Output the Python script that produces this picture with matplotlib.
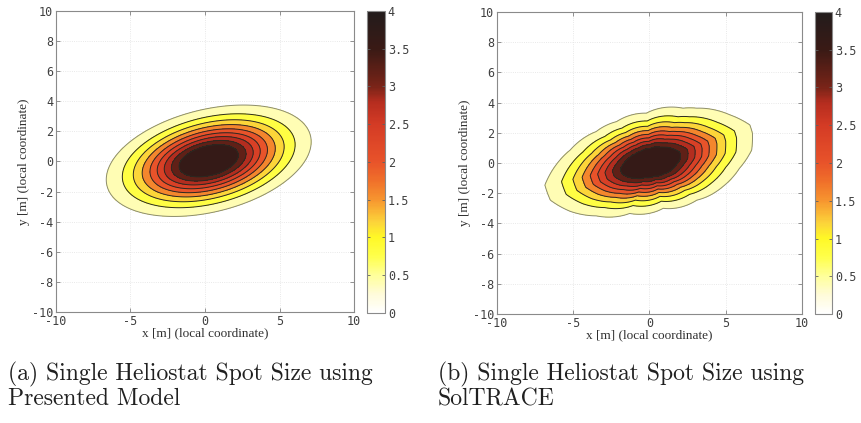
import numpy as np
import matplotlib
matplotlib.use("Agg")
import matplotlib.pyplot as plt
from matplotlib.colors import LinearSegmentedColormap, Normalize
from matplotlib.cm import ScalarMappable

plt.rcParams['axes.unicode_minus'] = False

# ---- colour scale (value -> colour) ----
cbar_values = [0.0, 0.25, 0.5, 0.75, 1.0, 1.2, 1.5, 1.75, 2.0, 2.5, 2.8, 3.0, 3.5, 4.0]
cbar_colors = ['#ffffff', '#fffbd8', '#ffff99', '#ffff4a', '#fff826', '#fcd43a',
               '#f7952f', '#f0702a', '#e8532a', '#d43b25', '#b52d1f', '#7a2418',
               '#3a1a15', '#221c1c']
cbar_ticks = [0, 0.5, 1, 1.5, 2, 2.5, 3, 3.5, 4]
cbar_ticklabels = ['0', '0.5', '1', '1.5', '2', '2.5', '3', '3.5', '4']

contour_levels = [0.4, 0.8, 1.2, 1.6, 2.0, 2.4, 2.8, 3.2, 3.6]
x_ticks = [-10, -5, 0, 5, 10]
y_ticks = [-10, -8, -6, -4, -2, 0, 2, 4, 6, 8, 10]

# ---- (a) presented model: elliptical Gaussian spot ----
spot_a_peak = 4.4
spot_a_center = (0.25, 0.05)
spot_a_sigma_x = 3.14
spot_a_sigma_y = 1.69
spot_a_rho = 0.34

# ---- (b) SolTRACE: outline of the outermost contour ----
spot_b_peak = 4.4
spot_b_center = (0.1, 0.0)
spot_b_outline_x = [-6.86, -6.5, -5.2, -3.5, -2.16, -0.2, 2.2, 3.1, 5.27, 6.58,
                    6.75, 6.7, 5.9, 4.8, 3.1, 0.9, -1.3, -3.5, -5.2, -6.5]
spot_b_outline_y = [-1.46, -0.7, 0.86, 2.08, 2.74, 3.3, 3.63, 3.63, 3.19, 2.52,
                    1.97, 0.86, -0.35, -1.57, -2.46, -3.0, -3.34, -3.5, -3.2, -2.46]

captions = ["(a) Single Heliostat Spot Size using\nPresented Model",
            "(b) Single Heliostat Spot Size using\nSolTRACE"]
xlabel = "x [m] (local coordinate)"
ylabel = "y [m] (local coordinate)"

cmap = LinearSegmentedColormap.from_list(
    'spot', [(v / 4.0, c) for v, c in zip(cbar_values, cbar_colors)])
norm = Normalize(0, 4)

g = np.linspace(-10, 10, 501)
X, Y = np.meshgrid(g, g)


def field_a():
    dx = X - spot_a_center[0]
    dy = Y - spot_a_center[1]
    sx, sy, r = spot_a_sigma_x, spot_a_sigma_y, spot_a_rho
    q = (dx**2 / sx**2 - 2 * r * dx * dy / (sx * sy) + dy**2 / sy**2) / (1 - r**2)
    return spot_a_peak * np.exp(-q / 2)


def field_b():
    ox = np.array(spot_b_outline_x) - spot_b_center[0]
    oy = np.array(spot_b_outline_y) - spot_b_center[1]
    th = np.arctan2(oy, ox)
    R = np.hypot(ox, oy)
    order = np.argsort(th)
    th, R = th[order], R[order]
    dx = X - spot_b_center[0]
    dy = Y - spot_b_center[1]
    t = np.arctan2(dy, dx)
    Rt = np.interp(t, th, R, period=2 * np.pi)
    rr = np.hypot(dx, dy) / Rt
    L0 = contour_levels[0]
    return spot_b_peak * (L0 / spot_b_peak) ** (rr**2)


W, H = 862, 423
fig = plt.figure(figsize=(W / 100, H / 100), dpi=100)

axes_px = [(56, 11, 354, 312), (497, 12, 802, 314)]
cbar_px = [(367, 11, 385, 313), (815, 12, 832, 314)]


def px_rect(r):
    x0, y0, x1, y1 = r
    return [x0 / W, (H - y1) / H, (x1 - x0) / W, (y1 - y0) / H]


tick_font = dict(family='DejaVu Sans Mono', size=8.5)
label_font = dict(family='Liberation Serif', size=9.5)

fills = [cmap(norm(l)) for l in contour_levels]
line_cols = ['#8c8c6e'] + ['#2a2a22'] * (len(contour_levels) - 1)

for i, F in enumerate([field_a(), field_b()]):
    ax = fig.add_axes(px_rect(axes_px[i]))
    ax.set_axisbelow(True)
    ax.grid(True, linestyle=':', color='#e2e2e2', linewidth=0.6)
    peak = F.max()
    ax.contourf(X, Y, F, levels=contour_levels + [peak + 1], colors=fills)
    ax.contour(X, Y, F, levels=contour_levels, colors=line_cols, linewidths=0.7)
    ax.set_xlim(-10, 10)
    ax.set_ylim(-10, 10)
    ax.set_xticks(x_ticks)
    ax.set_yticks(y_ticks)
    ax.set_xticklabels([str(v) for v in x_ticks], **tick_font, color='#404040')
    ax.set_yticklabels([str(v) for v in y_ticks], **tick_font, color='#404040')
    ax.tick_params(direction='in', top=True, right=True, length=3, width=0.6,
                   color='#808080', pad=2)
    for s in ax.spines.values():
        s.set_color('#8a8a8a')
        s.set_linewidth(0.8)
    ax.set_xlabel(xlabel, **label_font, color='#303030', labelpad=0)
    ax.set_ylabel(ylabel, **label_font, color='#303030', labelpad=1)

    cax = fig.add_axes(px_rect(cbar_px[i]))
    cb = fig.colorbar(ScalarMappable(norm=norm, cmap=cmap), cax=cax, ticks=cbar_ticks)
    cb.outline.set_edgecolor('#8a8a8a')
    cb.outline.set_linewidth(0.8)
    cax.set_yticklabels(cbar_ticklabels, **tick_font, color='#404040')
    cax.tick_params(direction='in', left=True, right=True, length=2.5, width=0.6,
                    color='#606060', pad=2)

cap_x = [8, 438]
for i, c in enumerate(captions):
    l1, l2 = c.split('\n')
    fig.text(cap_x[i] / W, (H - 380) / H, l1, family='cmr10', size=17,
             va='baseline', ha='left', color='#202020')
    fig.text(cap_x[i] / W, (H - 405) / H, l2, family='cmr10', size=17,
             va='baseline', ha='left', color='#202020')

fig.savefig('out.png', dpi=100)
